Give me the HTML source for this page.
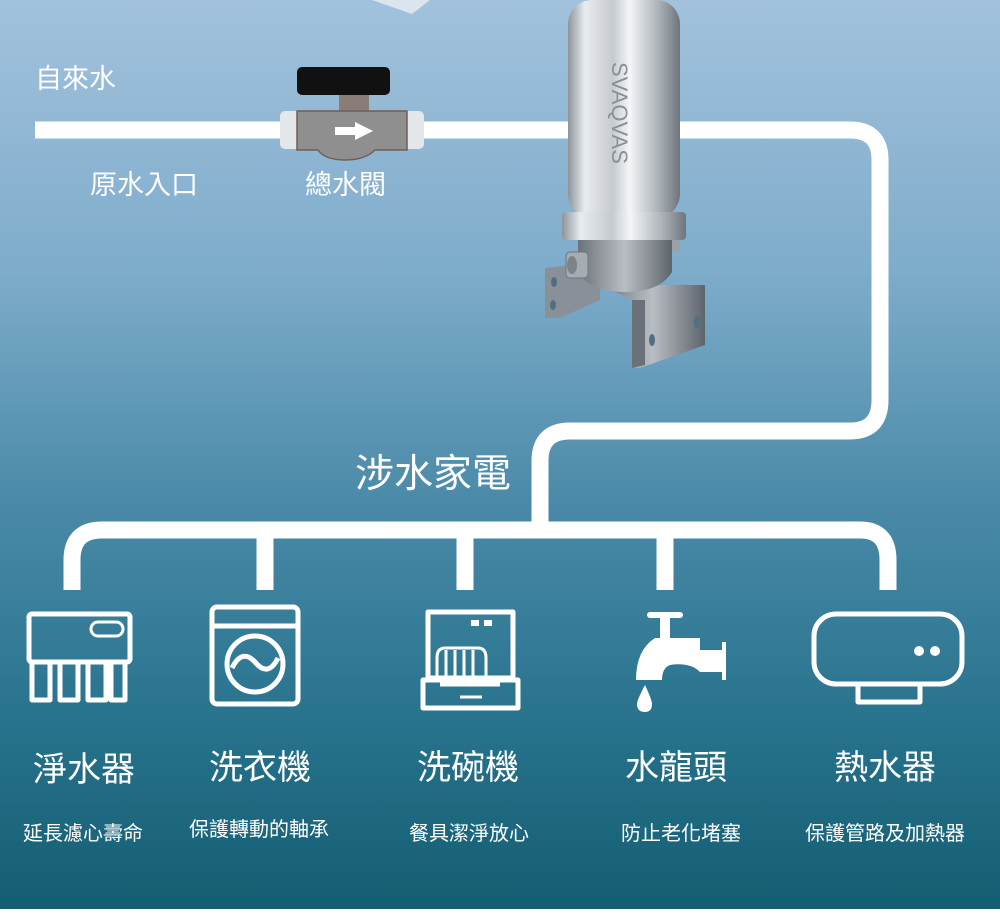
<!DOCTYPE html>
<html><head><meta charset="utf-8"><style>
html,body{margin:0;padding:0}
body{width:1000px;height:909px;overflow:hidden;font-family:"Liberation Sans","Noto Sans CJK TC",sans-serif;}
svg text{font-family:"Liberation Sans","Noto Sans CJK TC",sans-serif;fill:#fff}
</style></head><body>
<svg width="1000" height="909" viewBox="0 0 1000 909" xmlns="http://www.w3.org/2000/svg">
<defs>
<linearGradient id="bg" x1="0" y1="0" x2="0" y2="1">
<stop offset="0" stop-color="#a2c2dc"/>
<stop offset="0.3" stop-color="#7eaccb"/>
<stop offset="0.55" stop-color="#4a8aa8"/>
<stop offset="0.8" stop-color="#27728c"/>
<stop offset="1" stop-color="#145e72"/>
</linearGradient>
<linearGradient id="steel" x1="0" y1="0" x2="1" y2="0">
<stop offset="0" stop-color="#8e949a"/>
<stop offset="0.15" stop-color="#e8ecef"/>
<stop offset="0.4" stop-color="#c6cbd0"/>
<stop offset="0.55" stop-color="#f4f6f8"/>
<stop offset="0.8" stop-color="#aeb4ba"/>
<stop offset="1" stop-color="#6e757c"/>
</linearGradient>
<linearGradient id="steel2" x1="0" y1="0" x2="1" y2="0">
<stop offset="0" stop-color="#6c737a"/>
<stop offset="0.5" stop-color="#b9bec3"/>
<stop offset="1" stop-color="#5d646b"/>
</linearGradient>
</defs>
<rect width="1000" height="909" fill="url(#bg)"/>
<polygon points="372,0 430,0 412,14" fill="#e8eef2" opacity="0.8"/>
<!-- pipes -->
<g fill="none" stroke="#fff" stroke-width="17">
<path d="M35,130 H850 Q880,130 880,160 V400 Q880,431 850,431 H570 Q540,431 540,461 V528"/>
<path d="M72,590 V560 Q72,530 102,530 H860 Q888,530 888,560 V590"/>
<path d="M265,530 V590 M465,530 V590 M665,530 V590"/>
</g>
<!-- valve -->
<rect x="297" y="67" width="93" height="28" rx="5" fill="#111"/>
<rect x="339" y="95" width="30" height="16" fill="#8a7d76"/>
<rect x="280" y="111" width="24" height="38" rx="5" fill="#e4e7ea"/>
<rect x="400" y="111" width="24" height="38" rx="5" fill="#e4e7ea"/>
<path d="M297,111 H407 V150 H375 Q365,160 345,160 Q325,160 318,150 H297 Z" fill="#8f8f90" stroke="#6e5f58" stroke-width="1.5"/>
<polygon points="335,127 355,127 355,122 373,131 355,140 355,135 335,135" fill="#fff"/>
<!-- filter bracket -->
<polygon points="545,268 600,262 600,300 560,318 545,318" fill="#8a9097"/>
<polygon points="600,285 705,285 705,345 640,368 632,368 632,300" fill="url(#steel2)"/>
<polygon points="632,300 645,300 645,365 632,368" fill="#6a7178"/>
<ellipse cx="554" cy="282" rx="3" ry="5" fill="#4e6f84"/>
<ellipse cx="553" cy="305" rx="3" ry="5" fill="#4e6f84"/>
<ellipse cx="697" cy="322" rx="3" ry="6" fill="#4e6f84"/>
<ellipse cx="652" cy="340" rx="3" ry="6" fill="#4e6f84"/>
<!-- filter body -->
<path d="M578,238 H672 V272 Q660,292 625,292 Q590,292 578,272 Z" fill="url(#steel2)"/>
<rect x="566" y="252" width="22" height="26" rx="4" fill="#a5acb2" stroke="#6f767d"/>
<ellipse cx="572" cy="265" rx="5" ry="9" fill="#7c8389"/>
<rect x="672" y="232" width="8" height="20" rx="3" fill="#9aa1a7"/>
<rect x="568" y="0" width="112" height="218" rx="24" fill="url(#steel)"/>
<rect x="562" y="212" width="124" height="28" rx="4" fill="url(#steel)"/>
<text x="0" y="0" transform="translate(612,62) rotate(90)" font-size="22" style="fill:#8a9096">SVAQVAS</text>
<!-- labels top -->
<text x="35" y="88" font-size="27">自來水</text>
<text x="90" y="194" font-size="27">原水入口</text>
<text x="305" y="194" font-size="27">總水閥</text>
<text x="355" y="487" font-size="39">涉水家電</text>
<!-- icons -->
<g fill="none" stroke="#fff" stroke-width="5" stroke-linejoin="round">
<rect x="29" y="614" width="101" height="48" rx="3"/>
<rect x="91" y="622" width="32" height="14" rx="7" stroke-width="3"/>
<path d="M32,662 V700 H50 V662 M60,662 V700 H78 V662 M88,662 V700 H106 V662 M111,662 V700 H125 V662"/>
<rect x="212" y="607" width="86" height="97" rx="5"/>
<line x1="212" y1="626" x2="298" y2="626"/>
<circle cx="255" cy="664" r="28"/>
<path d="M232,668 Q242,648 255,662 Q268,678 278,658"/>
<rect x="428" y="612" width="85" height="66"/>
<path d="M423,680 H518 V708 H423 Z"/>
<line x1="440" y1="684" x2="500" y2="684"/>
<path d="M437,678 V658 Q437,648 445,648 H478 Q486,648 486,658 V678" stroke-width="3"/>
<path d="M446,678 V650 M455,678 V650 M464,678 V650 M473,678 V650" stroke-width="3"/>
<line x1="460" y1="697" x2="482" y2="697" stroke-width="3"/>
<rect x="814" y="614" width="148" height="70" rx="22"/>
<rect x="858" y="684" width="62" height="18"/>
</g>
<rect x="471" y="620" width="8" height="6" fill="#fff"/><rect x="484" y="620" width="8" height="6" fill="#fff"/>
<circle cx="919" cy="651" r="5" fill="#fff"/><circle cx="935" cy="651" r="5" fill="#fff"/>
<g fill="#fff">
<rect x="647" y="612" width="36" height="6" rx="3"/>
<rect x="660" y="618" width="10" height="20"/>
<path d="M655,638 H700 V650 H722 V642 H726 V680 H722 V672 H700 Q690,662 670,665 Q662,668 662,680 H636 Q636,650 655,638 Z"/>
<path d="M645,685 Q637,700 637,704 Q637,712 645,712 Q652,712 652,704 Q652,700 645,685 Z"/>
</g>
<g font-size="34" text-anchor="middle">
<text x="84" y="781">淨水器</text>
<text x="260" y="779">洗衣機</text>
<text x="468" y="779">洗碗機</text>
<text x="676" y="779">水龍頭</text>
<text x="885" y="779">熱水器</text>
</g>
<g font-size="20" text-anchor="middle">
<text x="83" y="840">延長濾心壽命</text>
<text x="259" y="836">保護轉動的軸承</text>
<text x="469" y="840">餐具潔淨放心</text>
<text x="681" y="840">防止老化堵塞</text>
<text x="885" y="840">保護管路及加熱器</text>
</g>
</svg>
</body></html>
